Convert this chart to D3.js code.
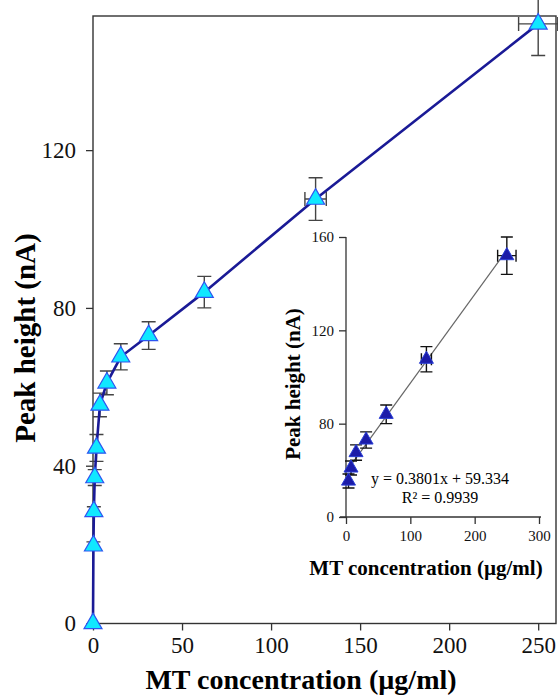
<!DOCTYPE html>
<html>
<head>
<meta charset="utf-8">
<script src="https://cdn.jsdelivr.net/npm/d3@7"></script>
<style>
  body { margin: 0; background: #fff; }
  #chart svg { display: block; }
</style>
</head>
<body>
<div id="chart"></div>
<script>
// MT concentration (ug/ml) and peak height (nA)
var concentration = [0, 0.24, 0.49, 0.98, 1.95, 3.9, 7.8, 15.6, 31.25, 62.5, 125, 250];
var peakHeight    = [0, 19.7, 28.4, 37, 44.5, 55.4, 61, 67.6, 73, 84, 107.6, 152];
var yError        = [0, 1, 1.2, 2, 3.4, 3, 3, 3.3, 3.5, 4, 5.4, 8];
var xError        = [0, 0, 0, 0, 0, 0, 0, 0, 0, 0, 6, 11];

// inset keeps only the points above 2 ug/ml
var insetFrom = 5;
var fitSlope = 0.3801;
var fitIntercept = 59.334;
var fitText = ['y = 0.3801x + 59.334', 'R\u00b2 = 0.9939'];

var mainXTicks = [0, 50, 100, 150, 200, 250];
var mainYTicks = [0, 40, 80, 120];
var insetXTicks = [0, 100, 200, 300];
var insetYTicks = [40, 80, 120, 160];
var insetYLabels = ['0', '80', '120', '160'];

var xTitle = 'MT concentration (\u00b5g/ml)';
var yTitle = 'Peak height (nA)';

(function() {

  'use strict'

  var Chart = function(element) {
    this.element = element;
    this.svg = null;

    this.width = 558;
    this.height = 700;
    this.font = '"Liberation Serif", "Times New Roman", serif';

    this.main = { left: 93, right: 556, top: 16, bottom: 623.5, xMax: 260, yMax: 154 };
    this.inset = { left: 346, right: 539, top: 237, bottom: 517 };

    this.marker = { fill: '#10e8ff', stroke: '#2d55f0', size: 140 };
    this.insetMarker = { fill: '#1c1ca8', stroke: '#2a3fd6', size: 85 };
    this.lineColor = '#1a1a96';
    this.axisColor = '#333';
  };

  Chart.prototype.init = function() {
    this.svg = d3.select(this.element).append('svg')
      .attr('width', this.width)
      .attr('height', this.height);

    this.x = d3.scaleLinear().domain([0, this.main.xMax]).range([this.main.left, this.main.right]);
    this.y = d3.scaleLinear().domain([0, this.main.yMax]).range([this.main.bottom, this.main.top]);

    this.ix = d3.scaleLinear().domain([0, 300]).range([this.inset.left, this.inset.right]);
    this.iy = d3.scaleLinear().domain([40, 160]).range([this.inset.bottom, this.inset.top]);

    this.points = concentration.map(function(c, i) {
      return { x: c, y: peakHeight[i], ey: yError[i], ex: xError[i] };
    });

    this.drawMainAxes().drawInset().drawMainSeries();
  };

  Chart.prototype.styleAxis = function(g, size) {
    g.selectAll('.domain').remove();
    g.selectAll('line').attr('stroke', this.axisColor).attr('stroke-width', 1.3);
    g.selectAll('text')
      .attr('font-family', this.font)
      .attr('font-size', size)
      .attr('fill', '#111');
  };

  Chart.prototype.drawMainAxes = function() {
    var m = this.main;

    // frame
    this.svg.append('rect')
      .attr('x', m.left).attr('y', m.top)
      .attr('width', m.right - m.left).attr('height', m.bottom - m.top)
      .attr('fill', 'none')
      .attr('stroke', this.axisColor)
      .attr('stroke-width', 1.4);

    var gx = this.svg.append('g')
      .attr('transform', 'translate(0,' + m.bottom + ')')
      .call(d3.axisBottom(this.x).tickValues(mainXTicks).tickSize(7).tickPadding(6));
    this.styleAxis(gx, '23px');

    var gy = this.svg.append('g')
      .attr('transform', 'translate(' + m.left + ',0)')
      .call(d3.axisLeft(this.y).tickValues(mainYTicks).tickSize(7).tickPadding(10));
    this.styleAxis(gy, '23px');

    this.svg.append('text')
      .attr('x', 301).attr('y', 689)
      .attr('text-anchor', 'middle')
      .attr('font-family', this.font)
      .attr('font-weight', 'bold')
      .attr('font-size', '28px')
      .text(xTitle);

    this.svg.append('text')
      .attr('transform', 'translate(35,338) rotate(-90)')
      .attr('text-anchor', 'middle')
      .attr('font-family', this.font)
      .attr('font-weight', 'bold')
      .attr('font-size', '29px')
      .text(yTitle);

    return this;
  };

  Chart.prototype.drawErrorBars = function(g, data, sx, sy, color, cap) {
    data.forEach(function(d) {
      if (d.ey > 0) {
        var y1 = sy(d.y - d.ey), y2 = sy(d.y + d.ey), x = sx(d.x);
        g.append('path')
          .attr('d', 'M' + x + ',' + y1 + 'V' + y2 +
                     'M' + (x - cap) + ',' + y1 + 'H' + (x + cap) +
                     'M' + (x - cap) + ',' + y2 + 'H' + (x + cap))
          .attr('stroke', color).attr('stroke-width', 1.4).attr('fill', 'none');
      }
      if (d.ex > 0) {
        var x1 = sx(d.x - d.ex), x2 = sx(d.x + d.ex), yy = sy(d.y);
        g.append('path')
          .attr('d', 'M' + x1 + ',' + yy + 'H' + x2 +
                     'M' + x1 + ',' + (yy - cap) + 'V' + (yy + cap) +
                     'M' + x2 + ',' + (yy - cap) + 'V' + (yy + cap))
          .attr('stroke', color).attr('stroke-width', 1.4).attr('fill', 'none');
      }
    });
  };

  Chart.prototype.drawMainSeries = function() {
    var x = this.x, y = this.y;
    var g = this.svg.append('g');

    this.drawErrorBars(g, this.points, x, y, '#444', 7);

    g.append('path')
      .datum(this.points)
      .attr('d', d3.line().x(function(d) { return x(d.x); }).y(function(d) { return y(d.y); }))
      .attr('fill', 'none')
      .attr('stroke', this.lineColor)
      .attr('stroke-width', 2.6);

    g.selectAll('.marker')
      .data(this.points)
      .enter().append('path')
      .attr('class', 'marker')
      .attr('transform', function(d) { return 'translate(' + x(d.x) + ',' + y(d.y) + ')'; })
      .attr('d', d3.symbol().type(d3.symbolTriangle).size(this.marker.size))
      .attr('fill', this.marker.fill)
      .attr('stroke', this.marker.stroke)
      .attr('stroke-width', 1.2);

    return this;
  };

  Chart.prototype.drawInset = function() {
    var ix = this.ix, iy = this.iy, r = this.inset;
    var data = this.points.slice(insetFrom);
    var g = this.svg.append('g');

    var gx = g.append('g')
      .attr('transform', 'translate(0,' + r.bottom + ')')
      .call(d3.axisBottom(ix).tickValues(insetXTicks).tickSize(7).tickPadding(6));
    this.styleAxis(gx, '15px');
    gx.append('line')
      .attr('x1', r.left - 6).attr('x2', r.right + 2)
      .attr('stroke', this.axisColor).attr('stroke-width', 1.3);

    var gy = g.append('g')
      .attr('transform', 'translate(' + r.left + ',0)')
      .call(d3.axisLeft(iy).tickValues(insetYTicks).tickSize(7).tickPadding(5)
        .tickFormat(function(d, i) { return insetYLabels[i]; }));
    this.styleAxis(gy, '15px');
    gy.append('line')
      .attr('y1', r.top).attr('y2', r.bottom)
      .attr('stroke', this.axisColor).attr('stroke-width', 1.3);

    // regression line
    var x0 = d3.min(data, function(d) { return d.x; });
    var x1 = d3.max(data, function(d) { return d.x; });
    g.append('line')
      .attr('x1', ix(x0)).attr('y1', iy(fitSlope * x0 + fitIntercept))
      .attr('x2', ix(x1)).attr('y2', iy(fitSlope * x1 + fitIntercept))
      .attr('stroke', '#666')
      .attr('stroke-width', 1.2);

    // inset horizontal error scaled to its own axis
    var insetErr = data.map(function(d) {
      return { x: d.x, y: d.y, ey: d.ey, ex: d.ex * 1.3 };
    });
    this.drawErrorBars(g, insetErr, ix, iy, '#111', 6);

    g.selectAll('.imarker')
      .data(data)
      .enter().append('path')
      .attr('class', 'imarker')
      .attr('transform', function(d) { return 'translate(' + ix(d.x) + ',' + iy(d.y) + ')'; })
      .attr('d', d3.symbol().type(d3.symbolTriangle).size(this.insetMarker.size))
      .attr('fill', this.insetMarker.fill)
      .attr('stroke', this.insetMarker.stroke)
      .attr('stroke-width', 1);

    g.selectAll('.fit')
      .data(fitText)
      .enter().append('text')
      .attr('class', 'fit')
      .attr('x', 440)
      .attr('y', function(d, i) { return 484 + i * 19; })
      .attr('text-anchor', 'middle')
      .attr('font-family', this.font)
      .attr('font-size', '16px')
      .text(String);

    g.append('text')
      .attr('x', 426).attr('y', 575)
      .attr('text-anchor', 'middle')
      .attr('font-family', this.font)
      .attr('font-weight', 'bold')
      .attr('font-size', '21px')
      .text(xTitle);

    g.append('text')
      .attr('transform', 'translate(300,384) rotate(-90)')
      .attr('text-anchor', 'middle')
      .attr('font-family', this.font)
      .attr('font-weight', 'bold')
      .attr('font-size', '21px')
      .text(yTitle);

    return this;
  };

  var chart = new Chart('#chart');
  chart.init();

})();
</script>
</body>
</html>
